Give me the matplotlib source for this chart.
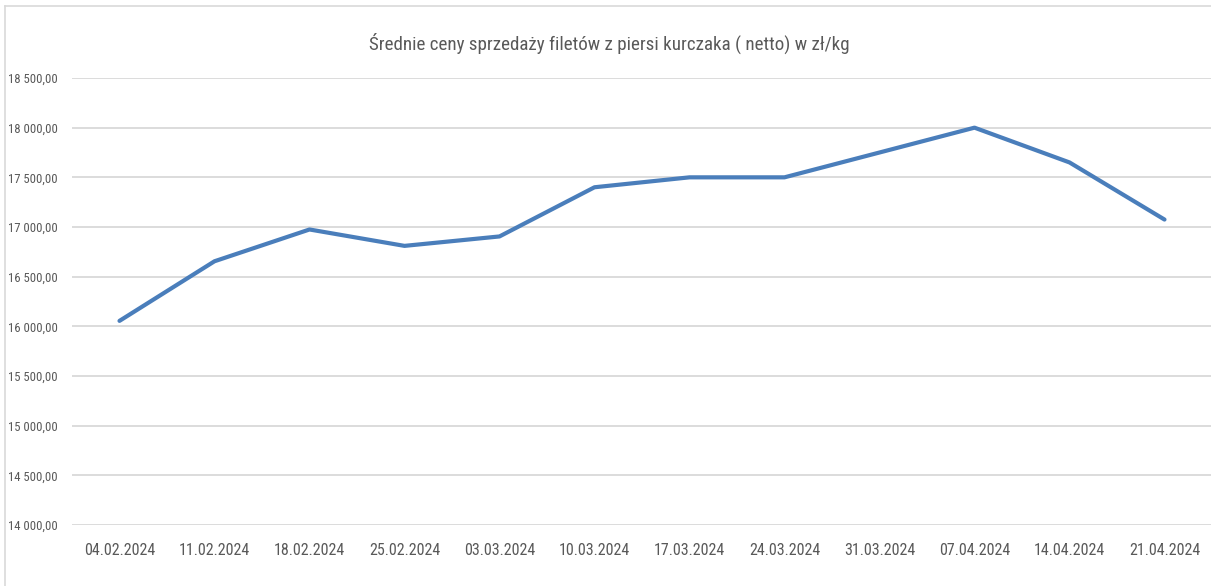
import matplotlib
matplotlib.use("Agg")
import matplotlib.pyplot as plt
from matplotlib.ticker import FuncFormatter, FixedLocator
from matplotlib.lines import Line2D
from matplotlib import font_manager
from matplotlib.font_manager import FontProperties

dates = ["04.02.2024", "11.02.2024", "18.02.2024", "25.02.2024", "03.03.2024",
         "10.03.2024", "17.03.2024", "24.03.2024", "31.03.2024", "07.04.2024",
         "14.04.2024", "21.04.2024"]
prices = [16055, 16655, 16975, 16810, 16905, 17400, 17500, 17500, 17750, 18000, 17650, 17075]
yticks = [14000, 14500, 15000, 15500, 16000, 16500, 17000, 17500, 18000, 18500]
title = "Średnie ceny sprzedaży filetów z piersi kurczaka ( netto) w zł/kg"

# pick a narrow family if installed
names = {f.name for f in font_manager.fontManager.ttflist}
fam = "DejaVu Sans"
for cand in ["Liberation Sans Narrow", "Roboto Condensed", "Open Sans Condensed",
             "Noto Sans Condensed", "DejaVu Sans Condensed", "Roboto", "Open Sans"]:
    if cand in names:
        fam = cand
        break
stretch = "condensed" if fam == "DejaVu Sans" else "normal"
plt.rcParams['font.family'] = [fam, "DejaVu Sans"]
plt.rcParams['font.stretch'] = stretch

W, H = 1211, 586
fig = plt.figure(figsize=(W / 100, H / 100), dpi=100)
renderer = fig.canvas.get_renderer()

def fit_size(text, target_px, base=10.0):
    t = fig.text(0, 0, text, fontsize=base, family=[fam, "DejaVu Sans"], fontstretch=stretch)
    w = t.get_window_extent(renderer).width
    t.remove()
    return base * target_px / w

xsize = min(fit_size("04.02.2024", 71), 15)
ysize = min(fit_size("18\u00a0500,00", 49), 11)
tsize = min(fit_size(title, 478), 16)

ax = fig.add_axes([72 / W, 1 - 525 / H, (1212 - 72) / W, (525 - 78) / H])

x = list(range(len(dates)))
ax.plot(x, prices, color="#4A7EBB", linewidth=3.0, solid_joinstyle="round",
        solid_capstyle="round", zorder=3)

ax.set_xlim(-0.5, len(dates) - 0.5)
ax.set_ylim(14000, 18500)
ax.yaxis.set_major_locator(FixedLocator(yticks))
ax.set_xticks(x)
ax.set_xticklabels(dates)

def fmt(v, pos):
    s = f"{v:,.2f}"
    intpart, dec = s.split(".")
    return intpart.replace(",", "\u00a0") + "," + dec

ax.yaxis.set_major_formatter(FuncFormatter(fmt))
ax.grid(axis="y", color="#D9D9D9", linewidth=1.3)
ax.set_axisbelow(True)
for sp in ax.spines.values():
    sp.set_visible(False)
ax.tick_params(axis="both", length=0, colors="#595959")
ax.tick_params(axis="y", labelsize=ysize, pad=10)
ax.tick_params(axis="x", labelsize=xsize, pad=13)

fig.text(609 / W, 1 - 43 / H, title, ha="center", va="center", fontsize=tsize, color="#595959")

# chart border (left and top)
fig.add_artist(Line2D([5 / W, 5 / W], [0, 1 - 6 / H], transform=fig.transFigure,
                      color="#D9D9D9", linewidth=1.2))
fig.add_artist(Line2D([5 / W, 1], [1 - 6 / H, 1 - 6 / H], transform=fig.transFigure,
                      color="#D9D9D9", linewidth=1.2))

fig.savefig("out.png", dpi=100)
